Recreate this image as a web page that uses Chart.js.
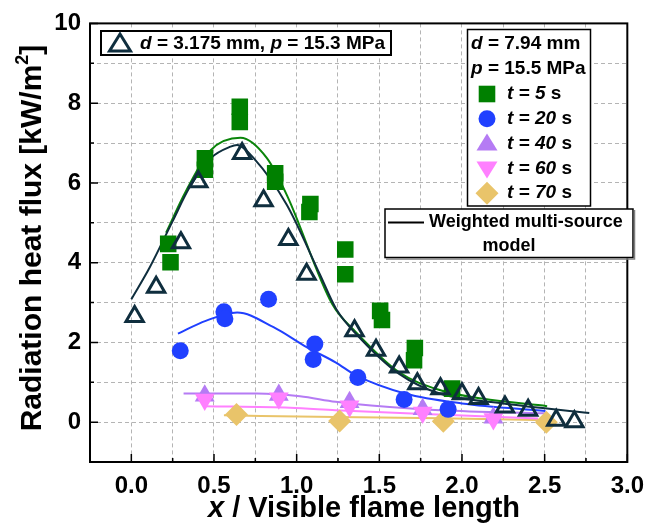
<!DOCTYPE html>
<html>
<head>
<meta charset="utf-8">
<script src="https://cdn.jsdelivr.net/npm/chart.js@4.4.1/dist/chart.umd.min.js"></script>
<style>
  html, body { margin: 0; padding: 0; background: #fff; }
  canvas { display: block; }
</style>
</head>
<body>
<canvas id="fluxChart" width="654" height="524"></canvas>
<script>
// measured points, read off the figure
// d = 3.175 mm, p = 15.3 MPa (hollow triangles)
const triX = [0.02, 0.15, 0.30, 0.405, 0.67, 0.80, 0.95, 1.06, 1.35, 1.48, 1.62, 1.73, 1.87, 2.00, 2.10, 2.26, 2.40, 2.57, 2.68];
const triY = [2.65, 3.38, 4.50, 6.03, 6.74, 5.55, 4.58, 3.71, 2.29, 1.80, 1.38, 0.96, 0.84, 0.71, 0.59, 0.38, 0.30, 0.05, 0.01];

// d = 7.94 mm, p = 15.5 MPa
const t5X = [0.223, 0.237, 0.445, 0.445, 0.656, 0.656, 0.87, 0.87, 1.083, 1.077, 1.294, 1.294, 1.505, 1.516, 1.715, 1.71, 1.94];
const t5Y = [4.47, 4.01, 6.62, 6.33, 7.91, 7.53, 6.24, 6.03, 5.47, 5.27, 4.33, 3.71, 2.79, 2.56, 1.86, 1.55, 0.84];
const t20X = [0.296, 0.56, 0.566, 0.83, 1.11, 1.10, 1.37, 1.65, 1.916];
const t20Y = [1.79, 2.77, 2.59, 3.08, 1.96, 1.57, 1.12, 0.57, 0.32];
const t40X = [0.444, 0.892, 1.32, 1.762, 2.19];
const t40Y = [0.66, 0.68, 0.50, 0.32, 0.11];
const t60X = [0.444, 0.892, 1.32, 1.762, 2.19];
const t60Y = [0.57, 0.60, 0.40, 0.24, 0.08];
const t70X = [0.636, 1.26, 1.887, 2.51];
const t70Y = [0.19, 0.03, 0.02, 0.0];

// model curves (weighted multi-source)
const triCurveX = [0, 0.11, 0.25, 0.35, 0.48, 0.60, 0.64, 0.74, 0.94, 1.14, 1.24, 1.36, 1.62, 1.87, 2.25, 2.77];
const triCurveY = [3.08, 3.87, 5.04, 5.87, 6.62, 6.91, 6.95, 6.62, 5.45, 3.71, 2.83, 2.21, 1.21, 0.71, 0.47, 0.23];
const t5CurveX = [0.21, 0.33, 0.48, 0.66, 0.82, 0.94, 1.215, 1.36, 1.62, 1.87, 2.12, 2.515];
const t5CurveY = [4.75, 5.79, 6.82, 7.13, 6.62, 5.70, 2.96, 2.25, 1.25, 0.80, 0.59, 0.40];
const t20CurveX = [0.282, 0.45, 0.64, 0.86, 1.06, 1.235, 1.36, 1.66, 2.0, 2.505];
const t20CurveY = [2.22, 2.54, 2.75, 2.38, 1.88, 1.50, 1.17, 0.71, 0.47, 0.28];
const t40CurveX = [0.316, 0.76, 1.02, 1.235, 1.45, 1.87, 2.505];
const t40CurveY = [0.72, 0.72, 0.65, 0.51, 0.42, 0.30, 0.22];
const t60CurveX = [0.444, 0.96, 1.235, 1.66, 2.46];
const t60CurveY = [0.40, 0.36, 0.30, 0.22, 0.09];
const t70CurveX = [0.56, 1.235, 1.87, 2.505];
const t70CurveY = [0.17, 0.13, 0.10, 0.05];

const FONT = "'Liberation Sans', Arial, Helvetica, sans-serif";
const NAVY = '#0f2e3e';
const GREEN = '#008000';
const BLUE = '#2040ff';
const PURPLE = '#b57bf4';
const PINK = '#ff80ff';
const GOLD = '#e9c46a';

function pts(xs, ys) {
  return xs.map((x, i) => ({ x, y: ys[i] }));
}

function markers(label, xs, ys, opts) {
  return Object.assign({
    label,
    data: pts(xs, ys),
    showLine: false,
    order: 1,
    pointBorderWidth: 0
  }, opts);
}

function curve(label, xs, ys, color) {
  return {
    label,
    data: pts(xs, ys),
    showLine: true,
    borderColor: color,
    borderWidth: 2,
    pointRadius: 0,
    cubicInterpolationMode: 'monotone',
    order: 5
  };
}

// text with italic / superscript pieces
function drawParts(ctx, parts, x, y, size, align) {
  const fontOf = p => (p.i ? 'italic ' : '') + 'bold ' + (p.sup ? Math.round(size * 0.6) : size) + 'px ' + FONT;
  let w = 0;
  parts.forEach(p => { ctx.font = fontOf(p); w += ctx.measureText(p.t).width; });
  let cx = align === 'center' ? x - w / 2 : x;
  ctx.textAlign = 'left';
  ctx.textBaseline = 'middle';
  parts.forEach(p => {
    ctx.font = fontOf(p);
    ctx.fillText(p.t, cx, y + (p.sup ? -size * 0.33 : 0));
    cx += ctx.measureText(p.t).width;
  });
}

function symbol(ctx, kind, x, y, color) {
  ctx.save();
  ctx.fillStyle = color;
  ctx.strokeStyle = color;
  ctx.beginPath();
  if (kind === 'square') {
    ctx.rect(x - 8.3, y - 8.3, 16.6, 16.6);
  } else if (kind === 'circle') {
    ctx.arc(x, y, 8.5, 0, Math.PI * 2);
  } else if (kind === 'up' || kind === 'hollow') {
    ctx.moveTo(x, y - 10);
    ctx.lineTo(x + 10.5, y + 7);
    ctx.lineTo(x - 10.5, y + 7);
    ctx.closePath();
  } else if (kind === 'down') {
    ctx.moveTo(x, y + 10);
    ctx.lineTo(x + 10.5, y - 7);
    ctx.lineTo(x - 10.5, y - 7);
    ctx.closePath();
  } else if (kind === 'diamond') {
    ctx.moveTo(x, y - 11.5);
    ctx.lineTo(x + 11.5, y);
    ctx.lineTo(x, y + 11.5);
    ctx.lineTo(x - 11.5, y);
    ctx.closePath();
  }
  if (kind === 'hollow') {
    ctx.lineWidth = 3;
    ctx.lineJoin = 'miter';
    ctx.stroke();
  } else {
    ctx.fill();
  }
  ctx.restore();
}

const decorations = {
  id: 'decorations',
  beforeDraw(chart) {
    const ctx = chart.ctx;
    ctx.save();
    ctx.fillStyle = '#fff';
    ctx.fillRect(0, 0, chart.width, chart.height);
    ctx.restore();
  },
  afterDraw(chart) {
    const ctx = chart.ctx;
    const a = chart.chartArea;
    const sx = chart.scales.x, sy = chart.scales.y;
    ctx.save();

    // inward ticks
    ctx.strokeStyle = '#000';
    ctx.lineWidth = 1.5;
    ctx.beginPath();
    for (let k = -1; k <= 12; k++) {
      const v = k * 0.25;
      const px = sx.getPixelForValue(v);
      const len = k % 2 === 0 ? 8 : 4;
      ctx.moveTo(px, a.bottom);
      ctx.lineTo(px, a.bottom - len);
    }
    for (let v = -1; v <= 10; v++) {
      const py = sy.getPixelForValue(v);
      const len = v % 2 === 0 ? 8 : 4;
      ctx.moveTo(a.left, py);
      ctx.lineTo(a.left + len, py);
    }
    ctx.stroke();

    // frame
    ctx.lineWidth = 2;
    ctx.strokeRect(a.left, a.top, a.right - a.left, a.bottom - a.top);

    // axis titles
    ctx.fillStyle = '#000';
    drawParts(ctx, [{ t: 'x', i: true }, { t: ' / Visible flame length' }], 364, 509, 29, 'center');
    ctx.save();
    ctx.translate(33, 238);
    ctx.rotate(-Math.PI / 2);
    drawParts(ctx, [{ t: 'Radiation heat flux [kW/m' }, { t: '2', sup: true }, { t: ']' }], 0, 0, 30, 'center');
    ctx.restore();

    // legend box 1
    ctx.fillStyle = '#fff';
    ctx.fillRect(101, 31, 290, 24);
    ctx.strokeStyle = '#000';
    ctx.lineWidth = 2;
    ctx.strokeRect(101, 31, 290, 24);
    symbol(ctx, 'hollow', 120, 44, NAVY);
    ctx.fillStyle = '#000';
    drawParts(ctx, [{ t: 'd', i: true }, { t: ' = 3.175 mm, ' }, { t: 'p', i: true }, { t: ' = 15.3 MPa' }], 140, 44, 19);

    // legend box 2
    ctx.fillStyle = '#fff';
    ctx.fillRect(467.5, 29.5, 123, 176.5);
    ctx.lineWidth = 1.5;
    ctx.strokeRect(467.5, 29.5, 123, 176.5);
    ctx.fillStyle = '#000';
    drawParts(ctx, [{ t: 'd', i: true }, { t: ' = 7.94 mm' }], 471, 44, 19);
    drawParts(ctx, [{ t: 'p', i: true }, { t: ' = 15.5 MPa' }], 471, 69, 19);
    const rows = [
      ['square', GREEN, '5'], ['circle', BLUE, '20'], ['up', PURPLE, '40'],
      ['down', PINK, '60'], ['diamond', GOLD, '70']
    ];
    rows.forEach((r, i) => {
      const yy = 94 + i * 24.8;
      symbol(ctx, r[0], 487, yy, r[1]);
      ctx.fillStyle = '#000';
      drawParts(ctx, [{ t: 't = ' + r[2], i: true }, { t: ' s' }], 507, yy, 19);
    });

    // legend box 3
    ctx.fillStyle = '#fff';
    ctx.fillRect(385, 209, 248, 48.5);
    ctx.strokeStyle = '#000';
    ctx.lineWidth = 1.5;
    ctx.strokeRect(385, 209, 248, 48.5);
    ctx.strokeStyle = '#808080';
    ctx.lineWidth = 1.5;
    ctx.beginPath();
    ctx.moveTo(386, 259);
    ctx.lineTo(634.5, 259);
    ctx.lineTo(634.5, 210);
    ctx.stroke();
    ctx.strokeStyle = '#000';
    ctx.lineWidth = 2;
    ctx.beginPath();
    ctx.moveTo(388, 222.5);
    ctx.lineTo(424, 222.5);
    ctx.stroke();
    ctx.fillStyle = '#000';
    drawParts(ctx, [{ t: 'Weighted multi-source' }], 429, 222, 18);
    drawParts(ctx, [{ t: 'model' }], 509, 246, 18, 'center');

    ctx.restore();
  }
};

const chart = new Chart(document.getElementById('fluxChart').getContext('2d'), {
  type: 'scatter',
  data: {
    datasets: [
      markers('d = 3.175 mm, p = 15.3 MPa', triX, triY, {
        pointStyle: 'triangle', pointRadius: 10, pointBorderWidth: 3,
        pointBackgroundColor: 'rgba(0,0,0,0)', pointBorderColor: NAVY, order: 0
      }),
      markers('t = 5 s', t5X, t5Y, { pointStyle: 'rect', pointRadius: 11.7, pointBackgroundColor: GREEN }),
      markers('t = 20 s', t20X, t20Y, { pointStyle: 'circle', pointRadius: 8.5, pointBackgroundColor: BLUE }),
      markers('t = 40 s', t40X, t40Y, { pointStyle: 'triangle', pointRadius: 11.5, pointBackgroundColor: PURPLE, order: 2 }),
      markers('t = 60 s', t60X, t60Y, { pointStyle: 'triangle', pointRotation: 180, pointRadius: 11.5, pointBackgroundColor: PINK }),
      markers('t = 70 s', t70X, t70Y, { pointStyle: 'rectRot', pointRadius: 11.5, pointBackgroundColor: GOLD }),
      curve('model 3.175 mm', triCurveX, triCurveY, NAVY),
      curve('model 5 s', t5CurveX, t5CurveY, '#0a850a'),
      curve('model 20 s', t20CurveX, t20CurveY, BLUE),
      curve('model 40 s', t40CurveX, t40CurveY, PURPLE),
      curve('model 60 s', t60CurveX, t60CurveY, PINK),
      curve('model 70 s', t70CurveX, t70CurveY, GOLD)
    ]
  },
  options: {
    responsive: false,
    animation: false,
    devicePixelRatio: 1,
    layout: { padding: { left: 0, right: 17, top: 21, bottom: 0 } },
    plugins: {
      legend: { display: false },
      tooltip: { enabled: false }
    },
    scales: {
      x: {
        type: 'linear',
        min: -0.25,
        max: 3.0,
        afterFit: s => { s.height = 62; },
        ticks: {
          stepSize: 0.25,
          autoSkip: false,
          maxRotation: 0,
          padding: 10,
          color: '#000',
          font: { family: FONT, size: 24, weight: 'bold' },
          callback: v => {
            const r = Math.round(v * 4) / 4;
            return (r >= 0 && Math.abs(r * 2 - Math.round(r * 2)) < 1e-6) ? r.toFixed(1) : '';
          }
        },
        grid: { color: '#b4b4b4', lineWidth: 1, drawTicks: false },
        border: { display: false, dash: [4, 3] }
      },
      y: {
        type: 'linear',
        min: -1,
        max: 10,
        afterFit: s => { s.width = 90; },
        ticks: {
          stepSize: 1,
          autoSkip: false,
          padding: 9,
          color: '#000',
          font: { family: FONT, size: 24, weight: 'bold' },
          callback: v => {
            const r = Math.round(v);
            return (r >= 0 && r % 2 === 0) ? String(r) : '';
          }
        },
        grid: { color: '#b4b4b4', lineWidth: 1, drawTicks: false },
        border: { display: false, dash: [4, 3] }
      }
    }
  },
  plugins: [decorations]
});
</script>
</body>
</html>
